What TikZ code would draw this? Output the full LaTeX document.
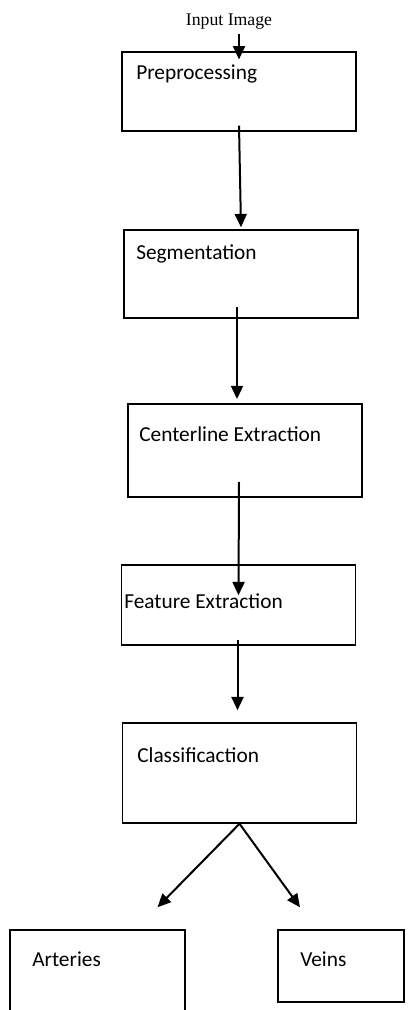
\documentclass[tikz,border=0pt]{standalone}
\usepackage{fontspec}
\setmainfont{Carlito}
\newfontfamily\inputfont{Liberation Serif}
\usetikzlibrary{arrows.meta,positioning,calc}

\begin{document}
\begin{tikzpicture}[x=0.75pt, y=-0.75pt,
  stage/.style={rectangle, draw, line width=1.1pt, minimum width=175.5pt, inner sep=0pt},
  leaf/.style={rectangle, draw, line width=1.1pt, inner sep=0pt},
  txt/.style={font=\fontsize{16}{19}\selectfont, anchor=base west, inner sep=0pt},
  arr/.style={-{Triangle[length=10pt, width=9pt]}, line width=1.5pt}
]
  \useasboundingbox (0,0) rectangle (408,1010);
  % input
  \node[font=\inputfont\fontsize{13.3}{16}\selectfont] (inp) at (229,22) {Input Image};
  % main stages
  \node[stage, minimum height=59pt] (pre) at (239,91.5) {};
  \node[stage, minimum height=66pt] (seg) at (241,274) {};
  \node[stage, minimum height=70pt] (cen) at (245,450.5) {};
  \node[stage, minimum height=60pt] (fea) at (238.5,605) {};
  \node[stage, minimum height=75pt] (cls) at (239.5,773) {};
  \node[txt] (preT) at (136,79) {Preprocessing};
  \node[txt] (segT) at (136,259) {Segmentation};
  \node[txt] (cenT) at (139,441) {Centerline Extraction};
  \node[txt] (feaT) at (124,608) {Feature Extraction};
  \node[txt] (clsT) at (137,762) {Classificaction};
  % outputs
  \node[leaf, minimum width=131pt, minimum height=66pt] (art) at (97.5,974) {};
  \node[leaf, minimum width=94.5pt, minimum height=54pt] (vei) at (341,966) {};
  \node[txt] (artT) at (32,966) {Arteries};
  \node[txt] (veiT) at (300,966) {Veins};
  % arrows
  \draw[arr] (inp.south -| pre.north) -- ($(pre.north)+(0,8)$);
  \draw[arr] ($(pre.south)+(0,-6)$) -- ($(seg.north)+(0,-2)$);
  \draw[arr] ($(seg.south)+(-4,-12)$) -- ($(cen.north)+(-8,-4)$);
  \draw[arr] ($(cen.south)+(-6,-16)$) -- ($(fea.north)+(0,31)$);
  \draw[arr] ($(fea.south)+(-1,-6)$) -- ($(cls.north)+(-2,-12)$);
  \draw[arr] (cls.south) -- ($(art.north)+(60,-22)$);
  \draw[arr] (cls.south) -- ($(vei.north)+(-41,-22)$);
\end{tikzpicture}
\end{document}
